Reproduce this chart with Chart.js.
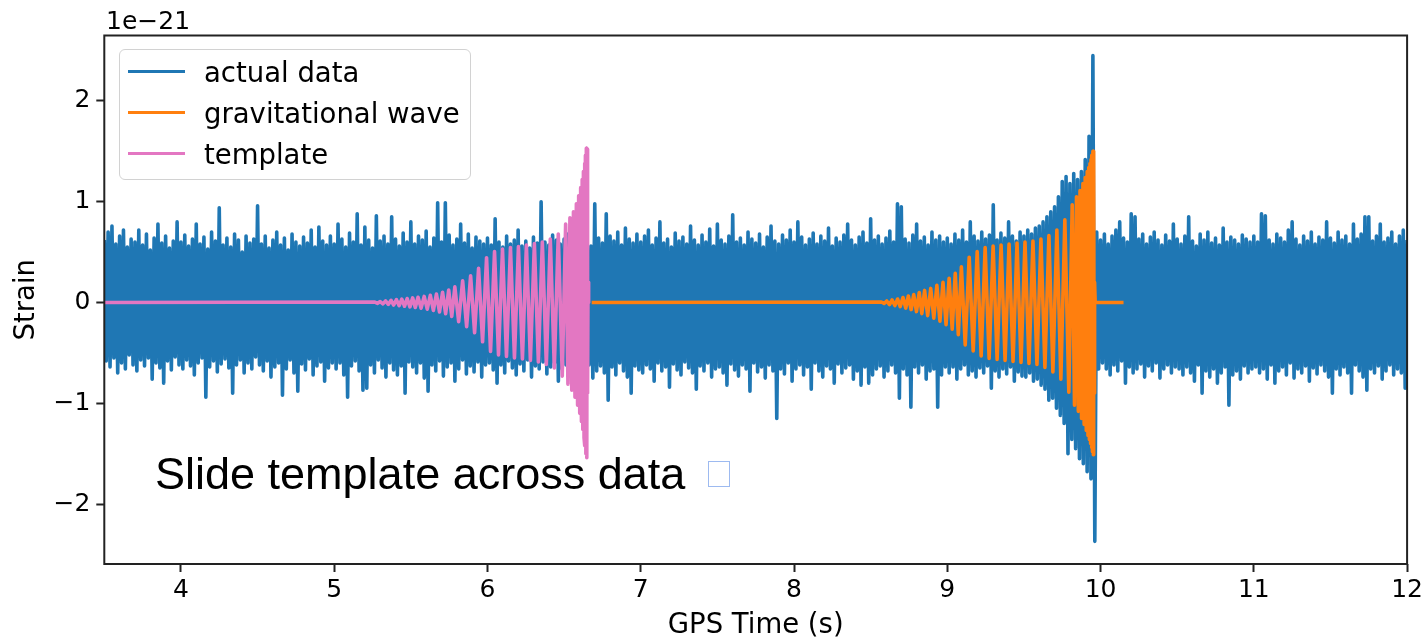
<!DOCTYPE html>
<html lang="en">
<head>
<meta charset="utf-8">
<title>Strain vs GPS time</title>
<script src="https://cdn.jsdelivr.net/npm/chart.js@4.4.1/dist/chart.umd.min.js"></script>
<style>
  html, body { margin: 0; padding: 0; background: #ffffff; }
  #wrap { position: relative; width: 1426px; height: 638px; overflow: hidden; }
  #strain-chart { display: block; }
  #offset-text {
    position: absolute; left: 106px; top: 6px;
    font: 25px "DejaVu Sans", sans-serif; color: #000;
  }
  #legend {
    position: absolute; left: 119px; top: 49px; width: 352px; height: 131px;
    box-sizing: border-box; padding-top: 1px;
    border: 1.5px solid #d2d2d2; border-radius: 6px;
    background: rgba(255, 255, 255, 0.8);
    font: 27.5px "DejaVu Sans", sans-serif; color: #000;
  }
  .legend-row { display: flex; align-items: center; height: 41px; }
  .legend-line { display: inline-block; width: 57px; height: 3.75px; margin: 0 19px 0 8px; }
  #note {
    position: absolute; left: 155px; top: 448px; white-space: nowrap;
    font: 45px "Liberation Sans", Arial, sans-serif; color: #000;
  }
  .missing-glyph {
    display: inline-block; width: 20px; height: 24px; margin: 0 0 2px 23px;
    border: 1.5px solid #9dbaf0; vertical-align: baseline;
  }
</style>
</head>
<body>
<div id="wrap">
  <canvas id="strain-chart" width="1426" height="638"></canvas>
  <div id="offset-text">1e−21</div>
  <div id="legend"></div>
  <div id="note">Slide template across data<span class="missing-glyph"></span></div>
</div>
<script>
// strain values are in units of 1e-21
const xTicks = [4, 5, 6, 7, 8, 9, 10, 11, 12];
const yTicks = [-2, -1, 0, 1, 2];

// detector data, one peak and one trough per 0.025 s from 3.5 s
const dataStart = 3.5;
const dataStep = 0.025;
const dataPeaks = [
  0.62, 0.70, 0.76, 0.58, 0.66, 0.72, 0.55, 0.63, 0.60, 0.72, 0.57, 0.68, 0.52, 0.64, 0.78, 0.59, 0.66, 0.54, 0.61, 0.80,
  0.60, 0.67, 0.56, 0.63, 0.78, 0.58, 0.65, 0.53, 0.70, 0.61, 0.94, 0.57, 0.64, 0.55, 0.68, 0.62, 0.50, 0.66, 0.59, 0.63,
  0.96, 0.58, 0.66, 0.54, 0.62, 0.70, 0.57, 0.64, 0.52, 0.68, 0.60, 0.56, 0.65, 0.59, 0.72, 0.55, 0.75, 0.61, 0.57, 0.66,
  0.58, 0.78, 0.63, 0.55, 0.69, 0.60, 0.88, 0.57, 0.75, 0.62, 0.54, 0.86, 0.61, 0.66, 0.58, 0.85, 0.63, 0.56, 0.69, 0.60,
  0.80, 0.58, 0.66, 0.62, 0.71, 0.55, 0.64, 0.99, 0.60, 0.99, 0.67, 0.57, 0.63, 0.78, 0.59, 0.68, 0.54, 0.65, 0.61, 0.58,
  0.64, 0.57, 0.83, 0.60, 0.55, 0.66, 0.58, 0.62, 0.72, 0.56, 0.61, 0.54, 0.65, 0.59, 1.00, 0.60, 0.57, 0.67, 0.62, 0.58,
  0.63, 0.68, 0.58, 0.65, 0.60, 0.72, 0.62, 0.56, 0.98, 0.64, 0.59, 0.88, 0.66, 0.61, 0.70, 0.57, 0.74, 0.63, 0.59, 0.68,
  0.60, 0.66, 0.72, 0.57, 0.64, 0.80, 0.59, 0.63, 0.55, 0.69, 0.61, 0.65, 0.58, 0.76, 0.62, 0.57, 0.67, 0.60, 0.73, 0.56,
  0.78, 0.62, 0.58, 0.66, 0.87, 0.60, 0.64, 0.57, 0.70, 0.63, 0.59, 0.68, 0.55, 0.65, 0.76, 0.61, 0.58, 0.67, 0.62, 0.72,
  0.60, 0.80, 0.65, 0.57, 0.63, 0.69, 0.58, 0.66, 0.61, 0.74, 0.56, 0.64, 0.60, 0.67, 0.78, 0.62, 0.57, 0.65, 0.70, 0.59,
  0.83, 0.62, 0.66, 0.58, 0.64, 0.71, 0.60, 0.98, 0.95, 0.63, 0.59, 0.67, 0.78, 0.61, 0.65, 0.57, 0.70, 0.62, 0.66, 0.60,
  0.64, 0.58, 0.68, 0.62, 0.72, 0.60, 0.80, 0.66, 0.61, 0.70, 0.63, 0.67, 0.97, 0.62, 0.69, 0.64, 0.80, 0.66, 0.61, 0.70,
  0.66, 0.72, 0.68, 0.74, 0.76, 0.80, 0.85, 0.90, 0.95, 1.05, 1.20, 1.25, 1.18, 1.28, 1.22, 1.30, 1.42, 1.65, 2.45, 0.70,
  0.62, 0.68, 0.58, 0.66, 0.72, 0.80, 0.64, 0.60, 0.88, 0.85, 0.63, 0.68, 0.58, 0.65, 0.70, 0.62, 0.57, 0.67, 0.61, 0.78,
  0.63, 0.58, 0.66, 0.85, 0.61, 0.56, 0.68, 0.62, 0.70, 0.59, 0.64, 0.57, 0.74, 0.60, 0.65, 0.62, 0.58, 0.67, 0.63, 0.60,
  0.66, 0.60, 0.88, 0.86, 0.62, 0.58, 0.68, 0.64, 0.60, 0.72, 0.80, 0.63, 0.57, 0.66, 0.61, 0.70, 0.58, 0.65, 0.62, 0.80,
  0.64, 0.59, 0.70, 0.62, 0.66, 0.58, 0.78, 0.63, 0.68, 0.85, 0.85, 0.61, 0.66, 0.78, 0.60, 0.64, 0.70, 0.58, 0.66, 0.72, 0.62,
];
const dataTroughs = [
  -0.58, -0.64, -0.55, -0.70, -0.60, -0.66, -0.52, -0.62, -0.68, -0.57, -0.63, -0.55, -0.76, -0.60, -0.65, -0.80, -0.58, -0.67, -0.54, -0.62,
  -0.66, -0.57, -0.63, -0.72, -0.60, -0.55, -0.94, -0.64, -0.58, -0.69, -0.61, -0.56, -0.65, -0.90, -0.62, -0.57, -0.70, -0.60, -0.66, -0.54,
  -0.62, -0.68, -0.58, -0.74, -0.64, -0.60, -0.92, -0.66, -0.57, -0.70, -0.88, -0.61, -0.67, -0.56, -0.72, -0.63, -0.59, -0.78, -0.65, -0.60,
  -0.66, -0.60, -0.72, -0.94, -0.63, -0.58, -0.68, -0.87, -0.85, -0.62, -0.70, -0.57, -0.65, -0.74, -0.60, -0.67, -0.72, -0.63, -0.90, -0.59,
  -0.64, -0.70, -0.60, -0.75, -0.88, -0.62, -0.68, -0.58, -0.73, -0.64, -0.60, -0.78, -0.66, -0.57, -0.71, -0.63, -0.69, -0.59, -0.74, -0.62,
  -0.60, -0.67, -0.80, -0.62, -0.70, -0.58, -0.65, -0.72, -0.61, -0.68, -0.57, -0.74, -0.63, -0.66, -0.59, -0.71, -0.64, -0.60, -0.78, -0.66,
  -0.62, -0.70, -0.65, -0.60, -0.73, -0.66, -0.62, -0.75, -0.68, -0.63, -0.70, -0.97, -0.64, -0.72, -0.60, -0.68, -0.74, -0.90, -0.63, -0.67,
  -0.70, -0.62, -0.66, -0.78, -0.60, -0.68, -0.64, -0.84, -0.61, -0.67, -0.72, -0.59, -0.65, -0.70, -0.86, -0.63, -0.68, -0.60, -0.74, -0.66,
  -0.64, -0.70, -0.82, -0.61, -0.67, -0.73, -0.62, -0.66, -0.88, -0.60, -0.69, -0.64, -0.75, -0.62, -0.68, -1.15, -0.66, -0.71, -0.60, -0.78,
  -0.66, -0.62, -0.72, -0.64, -0.86, -0.60, -0.68, -0.74, -0.63, -0.66, -0.80, -0.61, -0.70, -0.65, -0.62, -0.76, -0.68, -0.82, -0.64, -0.80,
  -0.72, -0.66, -0.63, -0.74, -0.68, -0.62, -0.70, -0.95, -0.66, -0.72, -1.04, -0.64, -0.70, -0.62, -0.76, -0.68, -0.66, -1.04, -0.72, -0.64,
  -0.70, -0.64, -0.76, -0.66, -0.62, -0.72, -0.68, -0.74, -0.65, -0.70, -0.63, -0.85, -0.68, -0.74, -0.66, -0.71, -0.64, -0.78, -0.69, -0.73,
  -0.74, -0.70, -0.78, -0.76, -0.82, -0.86, -0.97, -0.95, -1.05, -1.12, -1.20, -1.50, -1.36, -1.45, -1.55, -1.60, -1.68, -1.75, -2.37, -0.66,
  -0.60, -0.66, -0.72, -0.62, -0.68, -0.58, -0.80, -0.64, -0.70, -0.66, -0.61, -0.74, -0.63, -0.68, -0.60, -0.75, -0.66, -0.62, -0.70, -0.64,
  -0.66, -0.72, -0.64, -0.70, -0.78, -0.62, -0.90, -0.68, -0.74, -0.66, -0.80, -0.70, -0.64, -1.02, -0.72, -0.68, -0.76, -0.63, -0.70, -0.66,
  -0.64, -0.70, -0.66, -0.76, -0.62, -0.80, -0.68, -0.64, -0.72, -0.60, -0.75, -0.66, -0.70, -0.63, -0.78, -0.65, -0.71, -0.62, -0.68, -0.74,
  -0.90, -0.66, -0.72, -0.64, -0.70, -0.90, -0.62, -0.68, -0.74, -0.87, -0.66, -0.70, -0.63, -0.76, -0.68, -0.62, -0.72, -0.66, -0.70, -0.85, -0.64,
];

// chirp turning points, seconds relative to the merger
const chirpTimes = [
  -1.385, -1.367, -1.350, -1.332, -1.315, -1.297, -1.279, -1.262, -1.244, -1.226, -1.209, -1.191, -1.174, -1.156, -1.138, -1.121, -1.103,
  -1.083, -1.063, -1.043, -1.023, -1.003, -0.983, -0.963, -0.943, -0.923, -0.903, -0.883, -0.863,
  -0.838, -0.812, -0.786, -0.760, -0.734, -0.708, -0.682, -0.656, -0.630, -0.604, -0.578, -0.552, -0.526, -0.500,
  -0.474, -0.448, -0.422, -0.396, -0.370, -0.344, -0.318, -0.292, -0.266, -0.240, -0.214, -0.188, -0.162,
  -0.140, -0.125, -0.112, -0.100, -0.089, -0.079, -0.070, -0.062, -0.055, -0.048, -0.042, -0.037, -0.032, -0.028, -0.024,
  -0.020, -0.017, -0.014, -0.011, -0.008, -0.005, -0.002, 0.000, 0.003, 0.006,
  0.010,
];
const templateStrain = [
  0.005, -0.008, 0.01, -0.013, 0.016, -0.019, 0.022, -0.025, 0.028, -0.031, 0.034, -0.037, 0.04, -0.043, 0.046, -0.049, 0.052,
  -0.056, 0.061, -0.066, 0.072, -0.078, 0.085, -0.093, 0.102, -0.112, 0.124, -0.138, 0.155,
  -0.19, 0.215, -0.24, 0.265, -0.30, 0.34, -0.39, 0.445, -0.485, 0.505, -0.52, 0.53, -0.535, 0.545,
  -0.55, 0.555, -0.56, 0.57, -0.575, 0.585, -0.59, 0.60, -0.615, 0.63, -0.65, 0.68, -0.73,
  0.78, -0.81, 0.84, -0.87, 0.90, -0.94, 0.98, -1.02, 1.06, -1.10, 1.14, -1.18, 1.22, -1.26, 1.30,
  -1.34, 1.38, -1.42, 1.46, -1.50, 1.53, -1.54, 1.52, -0.9, 0.2,
  0,
];
const waveStrain = [
  0.005, -0.01, 0.015, -0.02, 0.025, -0.03, 0.035, -0.04, 0.05, -0.055, 0.065, -0.07, 0.08, -0.09, 0.10, -0.11, 0.12,
  -0.13, 0.14, -0.155, 0.17, -0.185, 0.20, -0.22, 0.24, -0.265, 0.29, -0.32, 0.355,
  -0.42, 0.45, -0.48, 0.505, -0.53, 0.545, -0.555, 0.56, -0.565, 0.57, -0.575, 0.58, -0.585, 0.59,
  -0.595, 0.60, -0.605, 0.61, -0.615, 0.63, -0.645, 0.665, -0.69, 0.72, -0.76, 0.82, -0.89,
  0.97, -1.02, 1.05, -1.08, 1.11, -1.15, 1.18, -1.21, 1.24, -1.27, 1.30, -1.32, 1.34, -1.36, 1.38,
  -1.40, 1.42, -1.44, 1.46, -1.48, 1.50, -1.51, 1.50, -0.9, 0.2,
  0,
];

const templateStart = 3.5;
const templateMerger = 6.65;
const waveStart = 6.68;
const waveMerger = 9.955;
const waveEnd = 10.15;

function buildDataPoints() {
  const points = [];
  dataPeaks.forEach((peak, i) => {
    const t = dataStart + i * dataStep;
    points.push({ x: t, y: peak });
    points.push({ x: t + dataStep / 2, y: dataTroughs[i] });
  });
  return points;
}

function buildChirpPoints(merger, strain) {
  return chirpTimes.map((t, i) => ({ x: merger + t, y: strain[i] }));
}

function formatTick(value) {
  return value < 0 ? `\u2212${Math.abs(value)}` : String(value);
}

const spinesPlugin = {
  id: 'spines',
  afterDatasetsDraw(chart) {
    const { ctx, chartArea } = chart;
    ctx.save();
    ctx.strokeStyle = '#222222';
    ctx.lineWidth = 2;
    ctx.strokeRect(
      chartArea.left,
      chartArea.top,
      chartArea.right - chartArea.left,
      chartArea.bottom - chartArea.top,
    );
    ctx.restore();
  },
};

function createLegend(chart) {
  const container = document.querySelector('#legend');

  chart.data.datasets.forEach((dataset) => {
    const row = document.createElement('div');
    row.className = 'legend-row';
    const line = document.createElement('span');
    line.className = 'legend-line';
    line.style.background = dataset.borderColor;
    const text = document.createElement('span');
    text.textContent = dataset.label;
    row.append(line, text);
    container.append(row);
  });
}

function createChart() {
  const context = document.querySelector('#strain-chart');
  const tickFont = { family: 'DejaVu Sans', size: 25 };
  const labelFont = { family: 'DejaVu Sans', size: 27.5, lineHeight: 0.91 };
  const lineStyle = { pointRadius: 0, pointHitRadius: 0, borderJoinStyle: 'round', tension: 0 };

  const chart = new Chart(context, {
    type: 'line',
    data: {
      datasets: [
        {
          label: 'actual data',
          data: buildDataPoints(),
          borderColor: '#1f77b4',
          borderWidth: 3.6,
          order: 3,
          ...lineStyle,
        },
        {
          label: 'gravitational wave',
          data: [
            { x: waveStart, y: 0 },
            ...buildChirpPoints(waveMerger, waveStrain),
            { x: waveEnd, y: 0 },
          ],
          borderColor: '#ff7f0e',
          borderWidth: 3.6,
          order: 2,
          ...lineStyle,
        },
        {
          label: 'template',
          data: [{ x: templateStart, y: 0 }, ...buildChirpPoints(templateMerger, templateStrain)],
          borderColor: '#e377c2',
          borderWidth: 3.6,
          order: 1,
          ...lineStyle,
        },
      ],
    },
    options: {
      responsive: false,
      animation: false,
      devicePixelRatio: 1,
      events: [],
      layout: {
        padding: { top: 35.5, right: 18, bottom: 0, left: 0 },
      },
      scales: {
        x: {
          type: 'linear',
          min: 3.5,
          max: 12,
          afterBuildTicks: (scale) => {
            scale.ticks = xTicks.map((value) => ({ value }));
          },
          afterFit: (scale) => {
            scale.height = 74;
          },
          border: { display: false },
          grid: { drawOnChartArea: false, tickLength: 8, tickWidth: 2, tickColor: '#222222' },
          ticks: {
            autoSkip: false,
            maxRotation: 0,
            padding: 3,
            color: '#000000',
            font: tickFont,
            callback: (value) => formatTick(value),
          },
          title: {
            display: true,
            text: 'GPS Time (s)',
            color: '#000000',
            font: labelFont,
            padding: 0,
          },
        },
        y: {
          type: 'linear',
          min: -2.595,
          max: 2.65,
          afterBuildTicks: (scale) => {
            scale.ticks = yTicks.map((value) => ({ value }));
          },
          afterFit: (scale) => {
            scale.width = 104.3;
          },
          border: { display: false },
          grid: { drawOnChartArea: false, tickLength: 8, tickWidth: 2, tickColor: '#222222' },
          ticks: {
            autoSkip: false,
            padding: 6,
            color: '#000000',
            font: tickFont,
            callback: (value) => formatTick(value),
          },
          title: {
            display: true,
            text: 'Strain',
            color: '#000000',
            font: labelFont,
            padding: { top: 14, bottom: 0 },
          },
        },
      },
      plugins: {
        legend: { display: false },
        tooltip: { enabled: false },
      },
    },
    plugins: [spinesPlugin],
  });

  createLegend(chart);
}

createChart();
</script>
</body>
</html>
